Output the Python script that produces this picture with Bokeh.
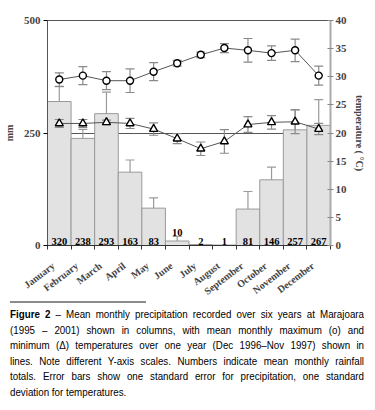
from bokeh.plotting import figure
from bokeh.layouts import column
from bokeh.models import Range1d, LinearAxis, FixedTicker, Div
from bokeh.core.properties import value
from bokeh.embed import file_html
from bokeh.resources import INLINE

# ---------------- data ----------------
months = ["January", "February", "March", "April", "May", "June", "July",
          "August", "September", "October", "November", "December"]
precip = [320, 238, 293, 163, 83, 10, 2, 1, 81, 146, 257, 267]
precip_se = [33, 20, 48, 27, 23, 10, 0, 0, 39, 28, 45, 57]
tmax = [29.5, 30.2, 29.3, 29.3, 30.9, 32.4, 33.9, 35.1, 34.7, 34.2, 34.7, 30.2]
tmax_sd = [1.2, 1.6, 1.6, 2.1, 1.6, 0.5, 0.5, 0.8, 2.1, 1.3, 2.0, 1.7]
tmin = [21.7, 21.7, 21.9, 21.7, 20.7, 19.0, 17.2, 18.5, 21.5, 21.9, 22.0, 20.7]
tmin_sd = [0.7, 0.7, 0.4, 0.9, 1.1, 0.9, 1.2, 2.1, 1.4, 1.2, 2.1, 1.0]
mm_ticks = [0, 250, 500]
temp_ticks = [0, 5, 10, 15, 20, 25, 30, 35, 40]
caption_head = "Figure 2"
caption_lines = [
    "\u2013 Mean monthly precipitation recorded over six years at Marajoara",
    "(1995 \u2013 2001) shown in columns, with mean monthly maximum (o) and",
    "minimum (\u0394) temperatures over one year (Dec 1996\u2013Nov 1997) shown in",
    "lines.  Note different Y-axis scales.  Numbers indicate mean monthly rainfall",
    "totals.  Error bars show one standard error for precipitation, one standard",
    "deviation for temperatures.",
]

SERIF = "Liberation Serif"

# ---------------- chart ----------------
W, H1 = 367, 304
FL, FR, FT, FB = 47, 333, 20, 245

p = figure(width=W, height=H1, output_backend="svg", toolbar_location=None,
           x_range=Range1d(0, 12), y_range=Range1d(0, 500),
           min_border_left=FL, min_border_right=W - FR,
           min_border_top=FT, min_border_bottom=H1 - FB)
p.extra_y_ranges = {"temp": Range1d(0, 40)}
p.background_fill_color = "white"
p.border_fill_color = "white"
p.outline_line_color = "#555555"
p.outline_line_width = 1

n = len(months)
xc = [i + 0.5 for i in range(n)]

p.xgrid.visible = False
p.ygrid.ticker = FixedTicker(ticks=[250])
p.ygrid.grid_line_color = "#555555"
p.ygrid.grid_line_width = 1

p.vbar(x=xc, top=precip, width=1, fill_color="#e2e2e2", line_color="#9a9a9a", line_width=1)

ex = [x for x, s in zip(xc, precip_se) if s > 0]
eb = [v for v, s in zip(precip, precip_se) if s > 0]
et = [v + s for v, s in zip(precip, precip_se) if s > 0]
p.segment(x0=ex, y0=eb, x1=ex, y1=et, line_color="#9a9a9a", line_width=1.2)
p.scatter(x=ex, y=et, marker="dash", size=9, line_color="#9a9a9a", line_width=1.2)

for t, sd in ((tmax, tmax_sd), (tmin, tmin_sd)):
    lo = [a - b for a, b in zip(t, sd)]
    hi = [a + b for a, b in zip(t, sd)]
    p.segment(x0=xc, y0=lo, x1=xc, y1=hi, line_color="#8a8a8a", line_width=1.2, y_range_name="temp")
    p.scatter(x=xc, y=lo, marker="dash", size=9, line_color="#8a8a8a", line_width=1.2, y_range_name="temp")
    p.scatter(x=xc, y=hi, marker="dash", size=9, line_color="#8a8a8a", line_width=1.2, y_range_name="temp")

p.line(x=xc, y=tmax, line_color="#555555", line_width=1, y_range_name="temp")
p.line(x=xc, y=tmin, line_color="#555555", line_width=1, y_range_name="temp")
p.scatter(x=xc, y=tmax, marker="circle", size=7, fill_color="white", line_color="black",
          line_width=1.4, y_range_name="temp")
p.scatter(x=xc, y=tmin, marker="triangle", size=8, fill_color="white", line_color="black",
          line_width=1.4, y_range_name="temp")

lab_y = [(v + s) if (v < 20 and s > 0) else 0 for v, s in zip(precip, precip_se)]
p.text(x=xc, y=lab_y, text=[str(v) for v in precip], text_align="center", text_baseline="bottom",
       y_offset=-1, text_font=value(SERIF), text_font_style="bold", text_font_size="10.5px",
       text_color="black")

p.yaxis.ticker = FixedTicker(ticks=mm_ticks)
p.yaxis.axis_label = "mm"
ax = p.yaxis[0]
ax.axis_line_color = "#555555"
ax.major_tick_out = 4
ax.major_tick_in = 0
ax.minor_tick_out = 0
ax.minor_tick_in = 0
ax.major_label_standoff = 3
ax.major_label_text_font = SERIF
ax.major_label_text_font_style = "bold"
ax.major_label_text_font_size = "11px"
ax.axis_label_text_font = SERIF
ax.axis_label_text_font_style = "bold"
ax.axis_label_text_font_size = "10px"
ax.axis_label_standoff = 6

ra = LinearAxis(y_range_name="temp", ticker=FixedTicker(ticks=temp_ticks),
                axis_label="temperature ( \u00b0C)")
ra.axis_line_color = "#aaaaaa"
ra.axis_line_width = 2
ra.major_tick_out = 3
ra.major_tick_in = 3
ra.major_tick_line_color = "#888888"
ra.minor_tick_out = 0
ra.minor_tick_in = 0
ra.major_label_standoff = 2
ra.major_label_text_font = SERIF
ra.major_label_text_font_style = "bold"
ra.major_label_text_font_size = "11px"
ra.axis_label_text_font = SERIF
ra.axis_label_text_font_style = "bold"
ra.axis_label_text_font_size = "10px"
ra.axis_label_standoff = 4
p.add_layout(ra, "right")

# month labels: their (invisible) ticks sit a quarter bar left of centre,
# visible tick marks are the minor ticks at the bar boundaries
label_pos = [i + 0.25 for i in range(n)]
bx = p.xaxis[0]
bx.ticker = FixedTicker(ticks=label_pos, minor_ticks=list(range(n + 1)))
bx.major_label_overrides = {x: m for x, m in zip(label_pos, months)}
bx.axis_line_color = "#333333"
bx.major_tick_out = 0
bx.major_tick_in = 0
bx.minor_tick_out = 4
bx.minor_tick_in = 0
bx.minor_tick_line_color = "#333333"
bx.major_label_orientation = 0.65
bx.major_label_standoff = 15
bx.major_label_text_font = SERIF
bx.major_label_text_font_style = "bold"
bx.major_label_text_font_size = "10px"

# ---------------- caption (HTML text, justified) ----------------
SCALE = 0.85
line_css = "text-align:justify;text-align-last:justify;white-space:nowrap;height:15.5px;"
rows = []
for i, ln in enumerate(caption_lines):
    css = line_css if i < len(caption_lines) - 1 else "text-align:left;white-space:nowrap;height:15.5px;"
    txt = ln
    if i == 0:
        txt = "<b>" + caption_head + "</b> " + ln
    rows.append('<div style="%s">%s</div>' % (css, txt))
html = (
    '<div style="font-family:\'Liberation Sans\',Arial,sans-serif;font-size:11.5px;'
    'line-height:15.5px;color:#000;margin:0;padding:0;">'
    '<div style="margin:1px 0 0 10px;width:136px;height:2px;background:#8c8c8c;"></div>'
    '<div style="margin:4px 0 0 10px;width:%.1fpx;transform:scaleX(%.3f);transform-origin:0 0;">'
    '%s</div></div>'
) % (354 / SCALE, SCALE, "".join(rows))
cap = Div(text=html, width=W, height=104, margin=(-4, 0, 0, 0))

open("out.html", "w").write(file_html(column(p, cap, spacing=0), INLINE))
